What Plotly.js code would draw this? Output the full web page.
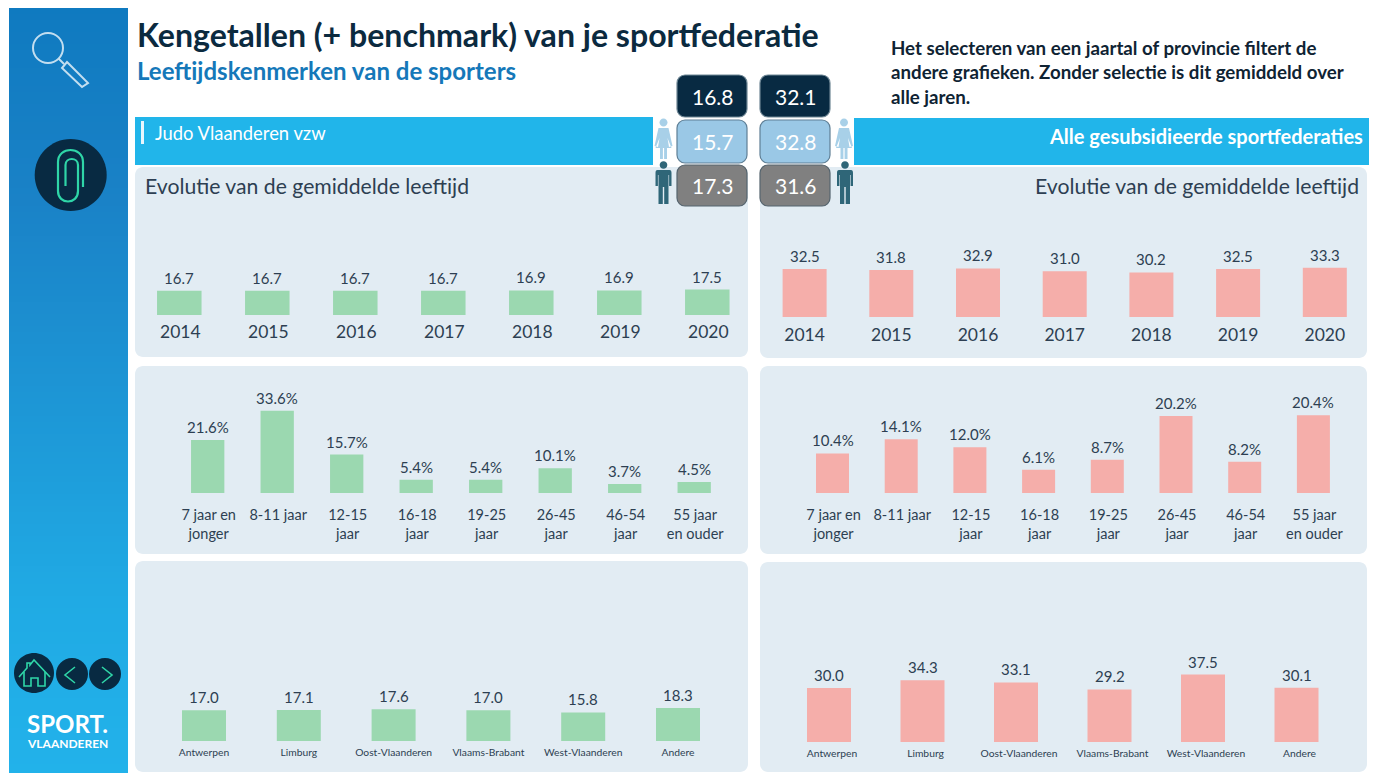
<!DOCTYPE html>
<html>
<head>
<meta charset="utf-8">
<script src="https://cdn.plot.ly/plotly-3.0.1.min.js"></script>
<style>html,body{margin:0;padding:0;background:#fff;overflow:hidden}#chart{width:1390px;height:773px}</style>
</head>
<body>
<div id="chart"></div>
<script>
const years = ["2014","2015","2016","2017","2018","2019","2020"];
const ageGroups = ["7 jaar en<br>jonger","8-11 jaar","12-15<br>jaar","16-18<br>jaar","19-25<br>jaar","26-45<br>jaar","46-54<br>jaar","55 jaar<br>en ouder"];
const provinces = ["Antwerpen","Limburg","Oost-Vlaanderen","Vlaams-Brabant","West-Vlaanderen","Andere"];

const judoByYear = [16.7,16.7,16.7,16.7,16.9,16.9,17.5];
const allByYear = [32.5,31.8,32.9,31.0,30.2,32.5,33.3];
const judoByAge = [21.6,33.6,15.7,5.4,5.4,10.1,3.7,4.5];
const allByAge = [10.4,14.1,12.0,6.1,8.7,20.2,8.2,20.4];
const judoByProvince = [17.0,17.1,17.6,17.0,15.8,18.3];
const allByProvince = [30.0,34.3,33.1,29.2,37.5,30.1];

const judoStats = ["16.8","15.7","17.3"];
const allStats = ["32.1","32.8","31.6"];

const W = 1390, H = 773;
const FONT = "Lato, sans-serif";
const GREEN = "#9bd8b0", PINK = "#f5aeaa", PANEL = "#e2ecf3", CYAN = "#21b5ea";
const TXT = "#2d3f52", NAVY = "#082a42", MINT = "#2fd6a8";

const traces = [{x:[],y:[],type:"scatter",mode:"markers",xaxis:"x",yaxis:"y",hoverinfo:"skip",showlegend:false}];
const layout = {
  width:W,height:H,margin:{l:0,r:0,t:0,b:0,pad:0},
  paper_bgcolor:"#ffffff",plot_bgcolor:"rgba(0,0,0,0)",showlegend:false,bargap:0.5,
  font:{family:FONT,color:TXT},
  xaxis:{domain:[0,1],range:[0,W],visible:false,fixedrange:true},
  yaxis:{domain:[0,1],range:[H,0],visible:false,fixedrange:true},
  shapes:[],annotations:[]
};

function addChart(i,cats,vals,color,fmt,o){
  const n = cats.length;
  const x0 = o.c0 - o.step/2, x1 = o.c0 + (n-0.5)*o.step;
  const top = o.base - 125;
  traces.push({
    type:"bar",x:cats,y:vals,xaxis:"x"+i,yaxis:"y"+i,width:o.bar/o.step,
    marker:{color:color,line:{width:0}},cliponaxis:false,hoverinfo:"skip",showlegend:false
  });
  vals.forEach((v,j)=>layout.annotations.push({
    text:fmt(v),x:j,y:v,xref:"x"+i,yref:"y"+i,showarrow:false,xanchor:"center",yanchor:"middle",
    yshift:13,font:{family:FONT,size:o.valueSize,color:TXT},borderpad:0
  }));
  layout["xaxis"+i] = {domain:[x0/W,x1/W],anchor:"y"+i,type:"category",categoryorder:"array",categoryarray:cats,range:[-0.5,n-0.5],
    fixedrange:true,showgrid:false,zeroline:false,showline:false,ticks:"outside",ticklen:o.tickGap,
    tickcolor:"rgba(0,0,0,0)",tickangle:0,automargin:false,ticklabelshift:o.tickShift,
    tickfont:{family:FONT,size:o.tickSize,color:TXT}};
  layout["yaxis"+i] = {domain:[1-o.base/H,1-top/H],anchor:"x"+i,range:[0,125/o.scale],visible:false,fixedrange:true};
}
const one = v => v.toFixed(1);
const pct = v => v.toFixed(1)+"%";
addChart(2,years,judoByYear,GREEN,one,{c0:179.3,step:88,bar:44.5,base:315,scale:1.455,valueSize:15,tickSize:17.5,tickGap:1,tickShift:1});
addChart(3,years,allByYear,PINK,one,{c0:804.6,step:86.7,bar:44,base:317,scale:1.477,valueSize:15,tickSize:17.5,tickGap:2,tickShift:0.5});
addChart(4,ageGroups,judoByAge,GREEN,pct,{c0:207.7,step:69.5,bar:33.3,base:493,scale:2.45,valueSize:15,tickSize:14.5,tickGap:9,tickShift:1});
addChart(5,ageGroups,allByAge,PINK,pct,{c0:832.5,step:68.7,bar:33,base:493,scale:3.81,valueSize:15,tickSize:14.5,tickGap:9,tickShift:1});
addChart(6,provinces,judoByProvince,GREEN,one,{c0:204,step:94.8,bar:44,base:741,scale:1.806,valueSize:15,tickSize:10.3,tickGap:2,tickShift:2.5});
addChart(7,provinces,allByProvince,PINK,one,{c0:829,step:93.5,bar:44,base:742,scale:1.8,valueSize:15,tickSize:10.3,tickGap:2,tickShift:3});

function shape(path,fill,lineColor,lineWidth){
  layout.shapes.push({type:"path",xref:"x",yref:"y",layer:"below",path:path,
    fillcolor:fill||"rgba(0,0,0,0)",line:{color:lineColor||"rgba(0,0,0,0)",width:lineWidth||0}});
}
function roundRect(x0,y0,x1,y1,r){
  const k=r*0.45;
  return `M${x0+r},${y0} L${x1-r},${y0} C${x1-k},${y0} ${x1},${y0+k} ${x1},${y0+r} L${x1},${y1-r} C${x1},${y1-k} ${x1-k},${y1} ${x1-r},${y1} L${x0+r},${y1} C${x0+k},${y1} ${x0},${y1-k} ${x0},${y1-r} L${x0},${y0+r} C${x0},${y0+k} ${x0+k},${y0} ${x0+r},${y0} Z`;
}
function circle(cx,cy,r){
  const k=r*0.5523;
  return `M${cx-r},${cy} C${cx-r},${cy-k} ${cx-k},${cy-r} ${cx},${cy-r} C${cx+k},${cy-r} ${cx+r},${cy-k} ${cx+r},${cy} C${cx+r},${cy+k} ${cx+k},${cy+r} ${cx},${cy+r} C${cx-k},${cy+r} ${cx-r},${cy+k} ${cx-r},${cy} Z`;
}
function hex(h){return [1,3,5].map(i=>parseInt(h.substr(i,2),16));}
const sideStops = [[8,"#0f7ac0"],[200,"#1a82c7"],[600,"#20aae4"],[773,"#22b2ea"]];
function sideColor(y){
  for(let i=1;i<sideStops.length;i++){
    if(y<=sideStops[i][0]){
      const a=sideStops[i-1],b=sideStops[i],t=(y-a[0])/(b[0]-a[0]);
      const ca=hex(a[1]),cb=hex(b[1]);
      return "rgb("+ca.map((c,j)=>Math.round(c+(cb[j]-c)*t)).join(",")+")";
    }
  }
  return sideStops[sideStops.length-1][1];
}
for(let y=8;y<773;y+=6){
  const y1=Math.min(y+6,773);
  shape(`M9,${y} L128,${y} L128,${y1} L9,${y1} Z`,sideColor(y+3));
}
// panels
[[135,167,748,357],[760,167,1367,358],[135,366,748,554],[760,366,1367,554],[135,561,748,772],[760,562,1367,772]]
  .forEach(p=>shape(roundRect(p[0],p[1],p[2],p[3],8),PANEL));
// header bands
shape("M135,117 L653,117 L653,165 L135,165 Z",CYAN);
shape("M854,118 L1369,118 L1369,165 L854,165 Z",CYAN);
shape("M141,121 L144,121 L144,144 L141,144 Z","#e8f6fd");
// stat boxes
function note(text,x,y,size,color,anchor,bold){
  layout.annotations.push({text:bold?"<b>"+text+"</b>":text,x:x,y:y,xref:"x",yref:"y",showarrow:false,
    xanchor:anchor,yanchor:"middle",font:{family:FONT,size:size,color:color},borderpad:0,captureevents:false});
}
function stats(x0,x1,vals){
  const boxes=[[75,117,NAVY,"#6f8795"],[120,163,"#9ac8e6","#5f7f95"],[165,206,"#808080","#55646e"]];
  boxes.forEach((b,i)=>{
    shape(roundRect(x0,b[0],x1,b[1],8),b[2],b[3],1.2);
    note(vals[i],(x0+x1)/2+1,(b[0]+b[1])/2,21,"#ffffff","center",false);
  });
}
stats(677,747,judoStats);
stats(760,830,allStats);
// people
function woman(cx,t,c){
  shape(circle(cx,t+4.5,4),c);
  shape(`M${cx-5},${t+10} L${cx+5},${t+10} L${cx+9},${t+28} L${cx+5.5},${t+29} L${cx+4},${t+20} L${cx+8},${t+30} L${cx+3.5},${t+30} L${cx+3.5},${t+41} L${cx+0.6},${t+41} L${cx+0.6},${t+30} L${cx-0.6},${t+30} L${cx-0.6},${t+41} L${cx-3.5},${t+41} L${cx-3.5},${t+30} L${cx-8},${t+30} L${cx-4},${t+20} L${cx-5.5},${t+29} L${cx-9},${t+28} Z`,c);
}
function man(cx,t,c){
  shape(circle(cx,t+4,3.8),c);
  shape(`M${cx-6},${t+9} L${cx+6},${t+9} C${cx+7.5},${t+9} ${cx+8},${t+10} ${cx+8},${t+12} L${cx+8},${t+25} L${cx+5.6},${t+25} L${cx+5.6},${t+14} L${cx+5},${t+14} L${cx+5},${t+43} L${cx+0.7},${t+43} L${cx+0.7},${t+26} L${cx-0.7},${t+26} L${cx-0.7},${t+43} L${cx-5},${t+43} L${cx-5},${t+14} L${cx-5.6},${t+14} L${cx-5.6},${t+25} L${cx-8},${t+25} L${cx-8},${t+12} C${cx-8},${t+10} ${cx-7.5},${t+9} ${cx-6},${t+9} Z`,c);
}
woman(663.5,118,"#a8d0e8"); man(663.5,161,"#2f6678");
woman(844,118,"#a8d0e8"); man(845,161,"#2f6678");
// magnifier
const soft="rgba(255,255,255,0.75)";
shape(circle(48,48,15),null,soft,2);
shape("M59,59 L64,64",null,soft,2);
shape("M67,62 L88,83 L82,87 L62,68 Z",null,soft,2);
// paperclip
shape(circle(70.7,175,36),NAVY);
shape("M83,187 L83,162 C83,146 58,146 58,162 L58,191 C58,205 78,205 78,191 L78,165 C78,157 65.5,157 65.5,165 L65.5,186",null,MINT,2.2);
// navigation
shape(circle(34,673,20),NAVY);
shape(circle(72,674,16),NAVY);
shape(circle(105,674,16),NAVY);
shape("M19,677 L27,668 L27,663 L30,663 L30,665 L34,660 L50,677",null,MINT,1.6);
shape("M24,672 L24,686 L31,686 L31,678 L38,678 L38,686 L45,686 L45,672",null,MINT,1.6);
shape("M75,667 L65,675 L75,683",null,MINT,1.6);
shape("M102,667 L112,675 L102,683",null,MINT,1.6);
// texts
note("Kengetallen (+ benchmark) van je sportfederatie",136,34.5,32.1,"#0b2a3f","left",true);
note("Leeftijdskenmerken van de sporters",136,70.5,24,"#1578b9","left",true);
note("Het selecteren van een jaartal of provincie filtert de",890,48,18.7,"#0f2333","left",true);
note("andere grafieken. Zonder selectie is dit gemiddeld over",890,72,18.7,"#0f2333","left",true);
note("alle jaren.",890,96.5,18.7,"#0f2333","left",true);
note("Judo Vlaanderen vzw",154,133,18.4,"#ffffff","left",false);
note("Alle gesubsidieerde sportfederaties",1364,136,20,"#ffffff","right",true);
note("Evolutie van de gemiddelde leeftijd",144,186,21.2,TXT,"left",false);
note("Evolutie van de gemiddelde leeftijd",1360,186,21.2,TXT,"right",false);
note("SPORT.",67.5,723,24,"#ffffff","center",true);
note("VLAANDEREN",67.5,743.5,12,"#ffffff","center",true);

Plotly.newPlot("chart",traces,layout,{displayModeBar:false,responsive:false,staticPlot:true});
</script>
</body>
</html>
